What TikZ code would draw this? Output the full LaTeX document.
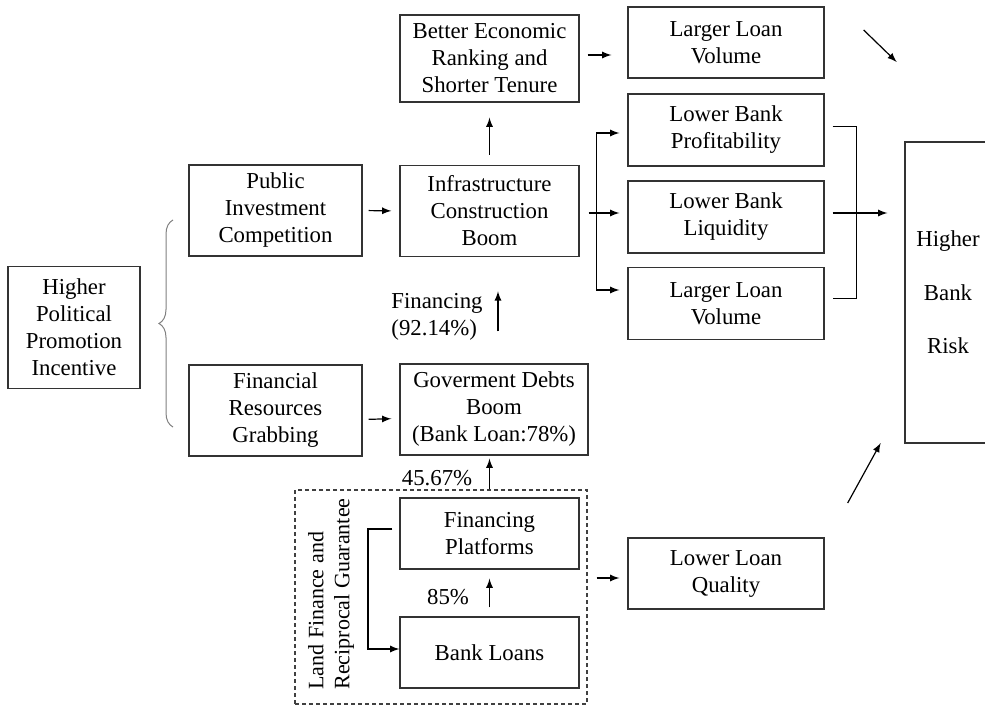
\documentclass[tikz,border=0pt]{standalone}
\usepackage{fontspec}
\setmainfont{Liberation Serif}
\usetikzlibrary{arrows,decorations.pathreplacing}
\tikzset{
  blk/.style={draw=black!80,line width=0.65pt,align=center,inner sep=0pt},
  lbl/.style={align=left,inner sep=0pt},
  arr/.style={->,>=latex,line width=0.6pt},
}

\begin{document}
\begin{tikzpicture}[x=0.5pt,y=-0.5pt,font=\fontsize{11.4}{13.5}\selectfont]
      \useasboundingbox (0,0) rectangle (985,706);
      \node [blk,minimum width=66pt,minimum height=61pt] (incent) at (74,327.5) {Higher\\Political\\Promotion\\Incentive};
      \node [blk,minimum width=86.5pt,minimum height=45.5pt] (pubinv) at (275.5,210.5) {Public\\Investment\\Competition};
      \node [blk,minimum width=86.5pt,minimum height=45.5pt] (grab) at (275.5,410.5) {Financial\\Resources\\Grabbing};
      \node [blk,minimum width=89.5pt,minimum height=43.5pt] (rank) at (489.5,58.5) {Better Economic\\Ranking and\\Shorter Tenure};
      \node [blk,minimum width=89.5pt,minimum height=45.5pt] (infra) at (489.5,211) {Infrastructure\\Construction\\Boom};
      \node [blk,minimum width=94pt,minimum height=45.5pt] (debt) at (494,409.5) {Goverment Debts\\Boom\\(Bank Loan:78\%)};
      \node [blk,minimum width=89.5pt,minimum height=35.5pt] (platf) at (489.5,533.5) {Financing\\Platforms};
      \node [blk,minimum width=89.5pt,minimum height=35.5pt] (loans) at (489.5,652.5) {Bank Loans};
      \node [blk,minimum width=98pt,minimum height=35.5pt] (volA) at (726,42.5) {Larger Loan\\Volume};
      \node [blk,minimum width=98pt,minimum height=36pt] (profit) at (726,130) {Lower Bank\\Profitability};
      \node [blk,minimum width=98pt,minimum height=36pt] (liquid) at (726,217) {Lower Bank\\Liquidity};
      \node [blk,minimum width=98pt,minimum height=36pt] (volB) at (726,303.5) {Larger Loan\\Volume};
      \node [blk,minimum width=98pt,minimum height=35.5pt] (quality) at (726,573.5) {Lower Loan\\Quality};
      \node [blk,minimum width=43pt,minimum height=150.5pt] (risk) at (948,292.5) {Higher\\[13.25pt]Bank\\[13.25pt]Risk};
      \node [draw=black!75,dash pattern=on 2pt off 1.5pt,line width=0.6pt,minimum width=146pt,minimum height=107pt,inner sep=0pt] (guar) at (441,597) {};
      \node [lbl,rotate=90,anchor=west,font=\fontsize{11}{13}\selectfont] (guarlbl) at (331,690) {Land Finance and\\Reciprocal Guarantee};
      \node [lbl] (finlbl) at (437,317) {Financing\\(92.14\%)};
      \node [lbl] (pctA) at (437,478) {45.67\%};
      \node [lbl] (pctB) at (448,597) {85\%};
      \coordinate (fan) at (596,213);
      \coordinate (join) at (856,213);
      \coordinate (loopL) at (368,649);
      \draw[decorate,decoration={brace,amplitude=7pt},gray,line width=0.5pt] (173,427)--(173,220);
      \draw[arr,shorten <=3pt,shorten >=4pt] (pubinv.east) -- (infra.west);
      \draw[arr,shorten <=3pt,shorten >=4pt] ([yshift=-4.5pt]grab.east) -- ([yshift=-4.5pt]debt.west -| infra.west);
      \draw[arr,shorten <=5pt,shorten >=7.5pt] (infra.north) -- (rank.south);
      \draw[arr,shorten <=4pt,shorten >=8pt] ([yshift=1.75pt]rank.east) -- ([yshift=1.75pt]rank.east -| volA.west);
      \draw[arr,shorten <=4.5pt,shorten >=4pt] (infra.east |- fan) -- (liquid.west |- fan);
      \draw[arr,shorten >=4pt] ([yshift=-1.5pt]fan |- profit.west) -- ([yshift=-1.5pt]profit.west);
      \draw[arr,shorten >=4pt] ([yshift=6.75pt]fan |- volB.west) -- ([yshift=6.75pt]volB.west);
      \draw ([yshift=-1.5pt]fan |- profit.west) -- ([yshift=6.75pt]fan |- volB.west);
      \draw ([xshift=4pt,yshift=2pt]profit.east) -| ([yshift=2.75pt]join |- volB.east) -- ([xshift=4pt,yshift=2.75pt]volB.east);
      \draw[arr,shorten <=4pt,shorten >=8.5pt] (liquid.east |- join) -- (risk.west |- join);
      \draw[arr] (volA.east) ++(39,-12.5) -- ++(33,32);
      \draw[arr] (quality.east) ++(23,-70.5) -- ++(33,-60);
      \draw[arr] ([xshift=2pt]debt.north) ++(0,-32) -- ++(0,-40);
      \draw[arr,shorten >=1.5pt] (platf.north |- guar.north) -- (platf.north |- debt.south);
      \draw[arr,shorten <=4.5pt,shorten >=4.5pt] (loans.north) -- (platf.south);
      \draw[arr] ([xshift=-3.5pt,yshift=2.25pt]platf.west) -| (loopL) -- (loopL -| loans.west);
      \draw[arr,shorten <=4.5pt,shorten >=4pt] ([yshift=-2.25pt]guar.east |- quality.west) -- ([yshift=-2.25pt]quality.west);
\end{tikzpicture}
\end{document}
